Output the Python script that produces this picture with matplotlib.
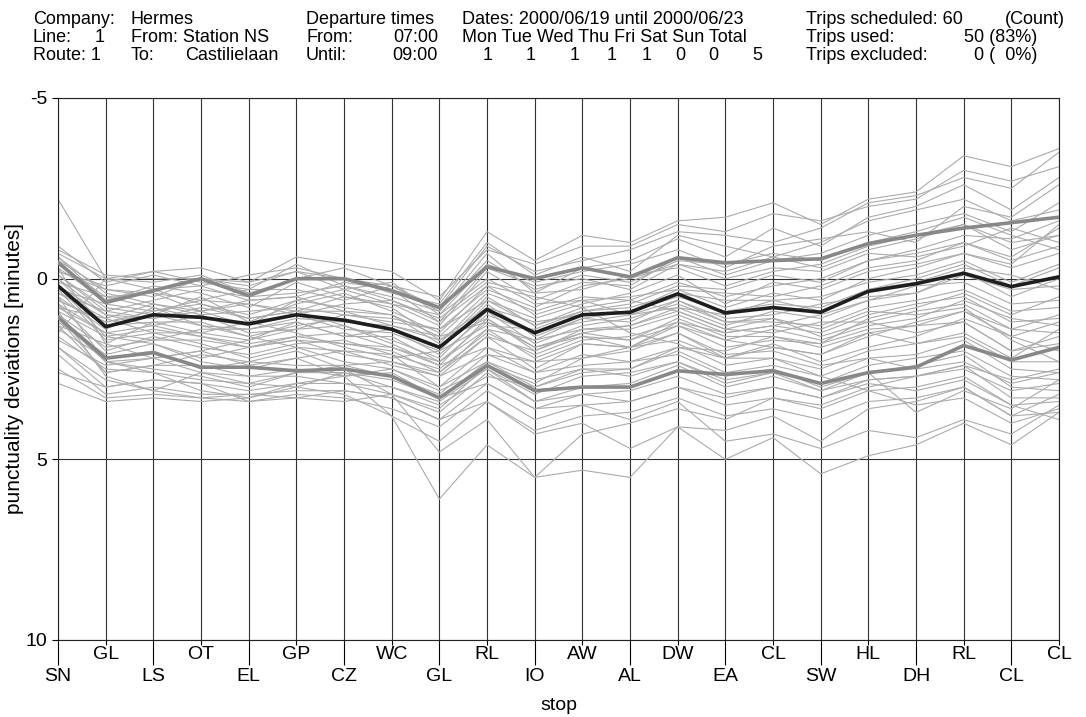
"""Punctuality deviations per stop, line 1 route 1 (Hermes), 07:00-09:00."""

import matplotlib
matplotlib.use("Agg")
import matplotlib.pyplot as plt

plt.rcParams["font.family"] = ["Liberation Sans", "DejaVu Sans"]

# ---- data -------------------------------------------------------------
stops = ["SN", "GL", "LS", "OT", "EL", "GP", "CZ", "WC", "GL", "RL", "IO",
         "AW", "AL", "DW", "EA", "CL", "SW", "HL", "DH", "RL", "CL", "CL"]

mean_dev = [0.2, 1.33, 1.0, 1.07, 1.25, 1.0, 1.15, 1.4, 1.9, 0.85, 1.5,
            1.0, 0.93, 0.42, 0.95, 0.8, 0.93, 0.35, 0.14, -0.15, 0.22, -0.05]
upper_dev = [-0.45, 0.66, 0.33, 0.0, 0.47, 0.0, 0.0, 0.33, 0.8, -0.33, 0.0,
             -0.3, -0.05, -0.58, -0.44, -0.5, -0.55, -0.97, -1.2, -1.4, -1.55, -1.7]
lower_dev = [1.07, 2.2, 2.05, 2.45, 2.45, 2.55, 2.5, 2.7, 3.3, 2.4, 3.1,
             3.0, 3.0, 2.55, 2.65, 2.55, 2.9, 2.6, 2.45, 1.85, 2.25, 1.9]

# one row per trip (50 trips used), minutes late per stop
trips = [
    [-2.2, 0.0, -0.2, 0.1, 0.3, -0.4, 0.2, 0.5, 0.9, -0.7, 0.4, -0.3, -0.5, -1.1, -0.6, -1.4, -0.9, -1.7, -2.0, -2.6, -1.9, -2.8],
    [-0.9, 0.1, -0.2, -0.3, 0.1, -0.6, -0.4, -0.2, 0.6, -1.3, -0.5, -1.2, -1.0, -1.6, -1.7, -2.1, -1.5, -2.2, -2.4, -3.4, -3.1, -3.6],
    [-0.7, 0.0, 0.1, -0.1, 0.4, 0.0, -0.3, 0.2, 0.8, -0.9, -0.2, -0.5, -0.8, -1.3, -1.2, -1.0, -1.4, -2.1, -2.3, -2.8, -2.5, -3.5],
    [-0.5, 0.3, 0.5, 0.0, 0.2, -0.2, 0.3, 0.1, 1.0, -0.4, 0.1, -0.2, -0.4, -0.8, -0.3, -0.9, -1.1, -1.3, -1.0, -2.0, -1.7, -2.6],
    [-0.3, 0.6, 0.2, 0.4, 0.8, 0.1, 0.5, 0.7, 1.3, -0.2, 0.6, 0.1, 0.2, -0.6, -0.1, -0.5, -0.7, -1.2, -1.5, -1.8, -1.3, -2.1],
    [-0.1, 0.9, 0.6, 0.3, 0.5, 0.4, 0.2, 0.6, 1.1, 0.1, 0.4, 0.3, -0.1, -0.3, 0.2, -0.2, -0.4, -0.9, -1.2, -1.5, -0.8, -1.2],
    [0.3, 0.7, 0.9, 0.7, 1.0, 0.6, 0.8, 1.0, 1.6, 0.4, 0.9, 0.5, 0.6, 0.1, 0.5, 0.2, 0.0, -0.5, -0.8, -1.2, -1.1, -1.6],
    [-0.6, 0.4, 0.7, 0.9, 0.6, 0.5, 0.1, 0.3, 1.2, -0.3, 0.2, 0.0, 0.3, -0.4, 0.0, -0.3, -0.2, -0.7, -0.6, -0.9, -1.4, -1.0],
    [-0.2, 0.2, -0.1, 0.2, -0.1, -0.3, 0.0, 0.4, 0.7, -1.0, -0.1, -0.6, -0.2, -1.2, -0.9, -0.6, -1.0, -1.6, -1.9, -2.2, -1.6, -1.9],
    [0.1, 0.5, 0.4, 0.6, 0.3, 0.3, 0.6, 0.2, 0.9, -0.5, 0.3, -0.1, 0.1, -0.5, -0.4, -0.7, -0.5, -1.0, -1.3, -1.7, -1.2, -0.8],
    [-0.1, 0.8, 1.0, 0.5, 1.2, 0.7, 0.4, 0.9, 1.5, 0.2, 1.0, 0.6, 0.5, 0.3, 0.4, 0.5, 0.2, -0.3, -0.5, -1.0, -0.6, -1.4],
    [0.4, 1.1, 0.7, 1.0, 0.9, 0.8, 1.0, 1.2, 1.4, 0.6, 1.1, 0.7, 0.4, -0.1, 0.7, 0.1, 0.3, -0.2, -0.4, -0.7, -0.3, -0.7],
    [0.2, 1.0, 1.1, 0.8, 1.1, 0.9, 0.9, 1.0, 1.8, 0.5, 1.3, 0.9, 0.8, 0.4, 0.6, 0.6, 0.5, 0.1, -0.1, -0.5, 0.1, -0.4],
    [0.6, 1.2, 1.0, 1.3, 1.4, 1.1, 1.2, 1.3, 1.7, 0.8, 1.2, 1.0, 0.9, 0.5, 0.9, 0.7, 0.8, 0.3, 0.1, -0.3, -0.1, 0.3],
    [0.5, 1.4, 0.8, 1.1, 1.3, 1.0, 1.4, 1.5, 2.0, 0.7, 1.6, 1.1, 1.2, 0.6, 1.1, 1.0, 0.7, 0.5, 0.4, -0.2, 0.5, 0.0],
    [0.0, 1.3, 1.2, 1.2, 1.6, 1.3, 1.1, 1.4, 2.1, 1.0, 1.5, 1.2, 1.0, 0.8, 1.3, 0.9, 1.1, 0.6, 0.2, 0.1, 0.7, 0.6],
    [0.8, 1.5, 1.3, 1.0, 1.5, 1.4, 1.3, 1.7, 2.2, 0.9, 1.8, 1.3, 1.1, 0.7, 1.2, 1.2, 1.3, 0.8, 0.6, 0.3, 0.9, 0.8],
    [0.3, 1.7, 1.5, 1.5, 1.7, 1.2, 1.6, 1.6, 2.3, 1.2, 1.7, 1.4, 1.4, 1.0, 1.5, 1.3, 1.5, 1.0, 0.7, 0.5, 1.2, 1.1],
    [0.9, 1.6, 1.4, 1.6, 1.8, 1.6, 1.5, 1.9, 2.4, 1.1, 2.0, 1.5, 1.3, 0.9, 1.4, 1.5, 1.2, 1.2, 0.9, 0.7, 1.4, 1.5],
    [1.0, 1.9, 1.7, 1.7, 1.9, 1.7, 1.8, 2.0, 2.6, 1.4, 2.2, 1.7, 1.6, 1.2, 1.7, 1.4, 1.7, 1.3, 1.1, 0.6, 1.1, 1.3],
    [0.7, 2.0, 1.6, 1.9, 2.1, 1.8, 1.7, 2.1, 2.5, 1.5, 2.1, 1.6, 1.7, 1.3, 1.9, 1.7, 1.8, 1.4, 1.3, 0.9, 1.6, 1.2],
    [1.2, 2.1, 1.8, 2.2, 1.9, 1.7, 2.1, 2.3, 2.7, 1.6, 2.5, 1.8, 1.9, 1.3, 1.7, 1.9, 2.1, 1.5, 1.3, 1.2, 2.0, 1.6],
    [1.1, 2.3, 2.2, 2.0, 2.4, 2.2, 2.0, 2.1, 3.0, 1.9, 2.3, 2.2, 1.9, 1.7, 2.2, 1.8, 2.3, 1.9, 1.6, 1.1, 1.6, 2.0],
    [1.4, 2.2, 2.0, 2.5, 2.3, 2.4, 2.4, 2.7, 3.2, 2.1, 2.6, 2.4, 2.3, 1.9, 2.2, 2.2, 2.5, 2.0, 1.8, 1.6, 2.3, 2.3],
    [1.3, 2.6, 2.4, 2.4, 2.7, 2.5, 2.7, 2.6, 3.3, 2.3, 3.0, 2.5, 2.5, 2.0, 2.6, 2.4, 2.7, 2.2, 2.1, 1.7, 2.5, 2.6],
    [1.6, 2.5, 2.6, 2.8, 2.9, 2.6, 2.6, 3.0, 3.4, 2.5, 3.2, 2.7, 2.6, 2.3, 2.8, 2.6, 2.9, 2.4, 2.2, 2.0, 2.7, 2.8],
    [1.9, 3.0, 2.8, 2.9, 3.1, 2.9, 2.9, 3.2, 3.7, 2.6, 3.4, 3.0, 2.9, 2.4, 3.0, 2.7, 3.1, 2.6, 2.4, 2.1, 3.0, 3.1],
    [2.1, 3.2, 3.0, 3.2, 3.2, 3.1, 3.1, 3.3, 3.9, 2.9, 3.6, 3.2, 3.1, 2.7, 3.2, 3.0, 3.3, 2.8, 2.7, 2.4, 3.3, 3.3],
    [2.5, 3.3, 3.2, 3.3, 3.4, 3.2, 3.3, 3.6, 4.1, 3.1, 3.9, 3.5, 3.4, 3.0, 3.5, 3.3, 3.6, 3.1, 3.0, 2.7, 3.5, 3.4],
    [2.9, 3.4, 3.3, 3.4, 3.3, 3.0, 3.2, 3.8, 4.5, 3.4, 4.2, 3.8, 3.7, 3.3, 3.8, 3.6, 3.9, 3.4, 3.3, 3.0, 3.8, 3.7],
    [1.5, 0.0, 0.3, 0.2, 0.6, 0.5, 0.9, 1.3, 1.6, 1.2, 1.9, 1.6, 1.9, 1.5, 2.1, 2.0, 2.4, 2.2, 2.5, 2.3, 2.9, 2.6],
    [-0.3, 1.8, 2.2, 2.0, 1.7, 1.4, 1.0, 1.1, 1.4, 0.3, 0.8, 0.2, 0.0, -0.4, -0.2, -0.6, -0.3, -0.8, -1.1, -1.5, -1.0, -1.2],
    [0.5, 2.3, 2.5, 2.7, 3.0, 2.6, 2.4, 2.3, 2.6, 1.6, 2.0, 1.4, 1.3, 0.8, 1.0, 0.6, 0.9, 0.3, 0.0, -0.4, 0.2, -0.3],
    [0.9, 2.7, 3.1, 3.3, 3.2, 3.3, 3.4, 3.2, 3.6, 2.4, 2.9, 2.2, 2.0, 1.5, 2.2, 1.9, 2.1, 1.6, 1.2, 0.9, 1.4, 1.0],
    [-0.4, 0.5, 0.8, 1.3, 1.6, 1.9, 2.3, 2.5, 3.0, 2.3, 2.8, 2.5, 2.7, 2.3, 2.9, 2.6, 3.1, 2.8, 2.7, 2.5, 3.1, 2.9],
    [0.2, 1.6, 1.8, 2.3, 2.5, 2.2, 2.7, 3.8, 6.1, 4.6, 5.5, 4.3, 4.0, 3.6, 3.9, 3.3, 3.5, 3.0, 2.7, 2.4, 2.8, 2.5],
    [1.1, 2.6, 2.4, 2.1, 2.3, 2.0, 2.5, 3.2, 4.8, 3.9, 5.5, 5.3, 5.5, 4.1, 4.2, 3.8, 4.5, 3.6, 3.4, 3.0, 3.8, 3.2],
    [2.6, 3.0, 2.8, 2.9, 3.4, 3.3, 3.1, 3.3, 3.9, 3.4, 4.3, 4.0, 4.7, 4.1, 5.0, 4.4, 5.4, 4.9, 4.6, 4.0, 4.6, 3.7],
    [1.9, 2.8, 3.1, 2.6, 2.9, 3.0, 2.6, 2.8, 3.3, 2.9, 3.6, 3.5, 3.9, 3.4, 4.5, 4.3, 4.7, 4.2, 4.4, 3.9, 4.3, 3.5],
    [0.6, 1.2, 0.9, 0.6, 0.7, 0.9, 1.3, 1.8, 2.4, 1.9, 2.6, 2.1, 2.3, 2.1, 2.7, 2.5, 3.0, 2.6, 3.7, 3.1, 3.6, 2.8],
    [0.8, 1.1, 1.5, 1.8, 2.2, 1.9, 2.0, 2.4, 2.7, 2.1, 2.3, 1.8, 1.9, 1.2, 1.5, 1.3, 1.0, 0.6, 0.4, -0.1, 0.3, 0.2],
    [-0.2, 0.3, 0.4, 0.9, 0.7, 1.0, 0.7, 0.6, 1.2, 0.2, 0.5, 0.8, 0.6, 0.9, 1.4, 1.1, 1.6, 1.2, 1.5, 1.2, 2.0, 1.8],
    [1.3, 1.8, 1.2, 1.5, 1.2, 1.5, 1.9, 2.2, 2.0, 1.3, 1.4, 0.9, 0.7, 0.2, 0.3, -0.1, 0.1, -0.5, -0.7, -1.0, -0.5, -0.9],
    [0.4, 0.9, 1.1, 0.9, 1.3, 0.6, 0.3, 0.7, 1.0, 0.0, 0.7, 0.6, 1.0, 0.6, 1.2, 1.1, 1.4, 0.9, 1.0, 0.8, 1.7, 2.3],
    [-0.6, 0.6, 0.3, 0.7, 1.1, 0.9, 0.5, 0.8, 1.7, 1.1, 1.9, 1.5, 1.7, 1.1, 1.6, 1.6, 1.9, 1.5, 1.8, 1.5, 2.2, 1.4],
    [1.7, 2.4, 2.2, 2.6, 2.7, 2.7, 2.9, 3.0, 3.5, 2.7, 3.0, 2.6, 2.5, 1.9, 2.0, 1.6, 1.8, 1.1, 0.8, 0.4, 1.0, 0.5],
    [0.0, 1.0, 1.3, 1.6, 1.9, 1.6, 1.8, 1.9, 2.3, 1.4, 1.7, 1.1, 0.9, 0.3, 0.8, 0.4, 0.6, 0.0, -0.3, -0.7, -0.4, -1.5],
    [1.0, 2.3, 2.6, 3.1, 3.3, 2.9, 2.7, 2.5, 3.1, 2.5, 3.4, 3.2, 3.4, 3.0, 3.3, 3.0, 3.3, 2.9, 3.1, 2.8, 3.5, 3.9],
    [0.7, 1.5, 1.7, 1.4, 1.4, 1.2, 1.6, 1.4, 1.9, 0.6, 1.3, 0.8, 1.5, 1.8, 2.4, 2.2, 2.7, 3.1, 3.5, 3.3, 4.0, 3.6],
    [-0.8, -0.1, 0.0, 0.0, 0.1, -0.2, 0.0, 0.2, 0.5, -0.8, -0.4, -0.9, -0.9, -1.5, -1.3, -1.8, -1.6, -2.0, -2.2, -3.0, -2.7, -3.1],
]

day_names = ["Mon", "Tue", "Wed", "Thu", "Fri", "Sat", "Sun", "Total"]
day_counts = [1, 1, 1, 1, 1, 0, 0, 5]

# ---- figure -----------------------------------------------------------
W, H = 1086, 717
fig = plt.figure(figsize=(W / 100, H / 100), dpi=100)
ax = fig.add_axes([58 / W, 1 - 640 / H, (1059 - 58) / W, (640 - 98) / H])

x = list(range(len(stops)))

for trip in trips:
    ax.plot(x, trip, color="#ababab", lw=0.8, zorder=2)
ax.plot(x, upper_dev, color="#888888", lw=2.6, zorder=3)
ax.plot(x, lower_dev, color="#888888", lw=2.6, zorder=3)
ax.plot(x, mean_dev, color="#1e1e1e", lw=2.6, zorder=4)

ax.set_xlim(0, len(stops) - 1)
ax.set_ylim(10, -5)
ax.set_yticks([-5, 0, 5, 10])
ax.set_yticklabels(["-5", "0", "5", "10"])

# lower row of labels on long ticks, upper row on short ticks
ax.set_xticks(x[0::2])
ax.set_xticklabels(stops[0::2])
ax.set_xticks(x[1::2], minor=True)
ax.set_xticklabels(stops[1::2], minor=True)
ax.tick_params(axis="x", which="major", length=18, width=0.8, pad=2, labelsize=14)
ax.tick_params(axis="x", which="minor", length=3.5, width=0.8, pad=0.5, labelsize=14)
ax.tick_params(axis="y", length=4.5, width=0.8, pad=3, labelsize=14)

ax.grid(True, axis="x", which="both", color="#333333", lw=0.8, zorder=1)
ax.grid(True, axis="y", which="major", color="#333333", lw=0.8, zorder=1)
ax.set_axisbelow(True)
for sp in ax.spines.values():
    sp.set_color("#222222")
    sp.set_linewidth(0.8)

ax.set_xlabel("stop", fontsize=14, labelpad=9)
ax.set_ylabel("punctuality deviations [minutes]", fontsize=15, labelpad=1)

# ---- header block -----------------------------------------------------
fs = 13


def put(px, py, s, ha="left"):
    fig.text(px / W, 1 - py / H, s, ha=ha, va="baseline", fontsize=fs)


r1, r2, r3 = 23.5, 41.5, 59.5
put(33, r1, "Company:")
put(131, r1, "Hermes")
put(33, r2, "Line:")
put(95, r2, "1")
put(131, r2, "From: Station NS")
put(33, r3, "Route: 1")
put(131, r3, "To:")
put(185, r3, "Castilielaan")

put(306, r1, "Departure times")
put(306, r2, "From:")
put(438, r2, "07:00", ha="right")
put(306, r3, "Until:")
put(438, r3, "09:00", ha="right")

put(462, r1, "Dates: 2000/06/19 until 2000/06/23")
put(462, r2, " ".join(day_names))
for cx, n in zip([488, 531, 575, 612, 647, 680, 713, 757], day_counts):
    put(cx, r3, str(n), ha="center")

put(806, r1, "Trips scheduled: 60")
put(1005, r1, "(Count)")
put(806, r2, "Trips used:")
put(1037, r2, "50 (83%)", ha="right")
put(806, r3, "Trips excluded:")
put(1037, r3, "0 (  0%)", ha="right")

fig.savefig("out.png", dpi=100)
